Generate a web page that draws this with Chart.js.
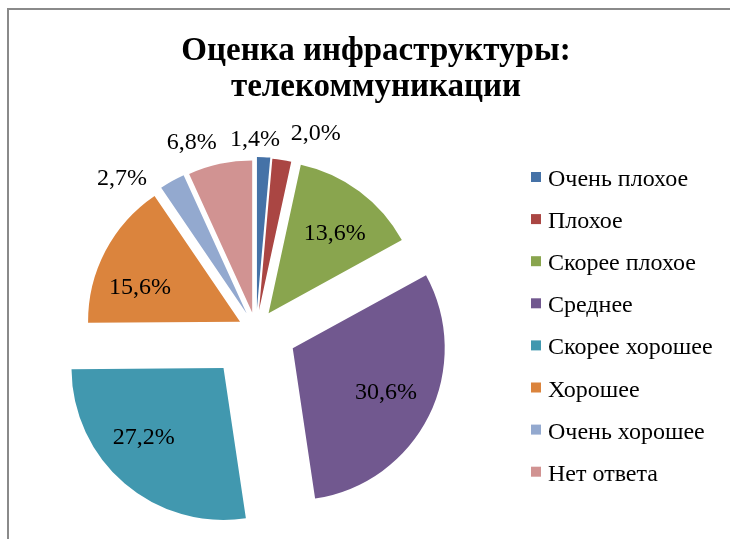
<!DOCTYPE html>
<html>
<head>
<meta charset="utf-8">
<script src="https://cdn.jsdelivr.net/npm/chart.js@4"></script>
<style>
  html, body { margin: 0; padding: 0; background: #ffffff; }
  #wrap { position: relative; width: 730px; height: 539px; overflow: hidden; background: #fff; }
  #frame { position: absolute; left: 7px; top: 8px; width: 760px; height: 600px;
           border-left: 2px solid #8a8a8a; border-top: 2px solid #8a8a8a; box-sizing: border-box; }
  #c { position: absolute; left: 0; top: 0; }
</style>
</head>
<body>
<div id="wrap">
  <div id="frame"></div>
  <canvas id="c" width="730" height="539"></canvas>
</div>
<script>
// ---- data ----
const titleLines = ['Оценка инфраструктуры:', 'телекоммуникации'];
const categories = ['Очень плохое', 'Плохое', 'Скорее плохое', 'Среднее',
                    'Скорее хорошее', 'Хорошее', 'Очень хорошее', 'Нет ответа'];
const shares = [1.4, 2.0, 13.6, 30.6, 27.2, 15.6, 2.7, 6.8];
const valueLabels = shares.map(v => v.toFixed(1).replace('.', ',') + '%');

// ---- style ----
const sliceColors = ['#4572A7', '#AA4643', '#89A54E', '#71588F',
                     '#4198AF', '#DB843D', '#93A9CF', '#D19392'];
const explodePx = [21, 20, 21, 41, 50, 18, 19, 18];
const labelDist = [1.126, 1.231, 0.689, 0.675, 0.689, 0.699, 1.217, 1.195];
const labelTurn = [-3.2, 9, 2.4, -1.8, 9, -8, -13, -7.2];
const SERIF = '"Liberation Serif", "Times New Roman", serif';

const explodePlugin = {
  id: 'explode',
  afterDatasetsUpdate(chart) {
    const meta = chart.getDatasetMeta(0);
    meta.data.forEach((arc, i) => {
      const mid = (arc.startAngle + arc.endAngle) / 2;
      arc.x += Math.cos(mid) * explodePx[i];
      arc.y += Math.sin(mid) * explodePx[i];
    });
  }
};

const labelPlugin = {
  id: 'sliceLabels',
  afterDatasetsDraw(chart) {
    const ctx = chart.ctx;
    const meta = chart.getDatasetMeta(0);
    ctx.save();
    ctx.font = '24px ' + SERIF;
    ctx.fillStyle = '#000';
    ctx.textAlign = 'center';
    ctx.textBaseline = 'alphabetic';
    meta.data.forEach((arc, i) => {
      const a = (arc.startAngle + arc.endAngle) / 2 + labelTurn[i] * Math.PI / 180;
      const r = arc.outerRadius * labelDist[i];
      ctx.fillText(valueLabels[i], arc.x + Math.cos(a) * r, arc.y + Math.sin(a) * r + 8);
    });
    ctx.restore();
  }
};

const textPlugin = {
  id: 'titleLegend',
  afterDraw(chart) {
    const ctx = chart.ctx;
    ctx.save();
    ctx.fillStyle = '#000';
    ctx.textAlign = 'center';
    ctx.textBaseline = 'alphabetic';
    ctx.font = 'bold 33px ' + SERIF;
    titleLines.forEach((t, i) => ctx.fillText(t, 376, 60 + i * 36));
    ctx.textAlign = 'left';
    ctx.font = '24px ' + SERIF;
    categories.forEach((c, i) => {
      ctx.fillStyle = sliceColors[i];
      ctx.fillRect(531, 172 + i * 42.1, 10, 10);
      ctx.fillStyle = '#000';
      ctx.fillText(c, 548, 186 + i * 42.1);
    });
    ctx.restore();
  }
};

new Chart(document.getElementById('c'), {
  type: 'pie',
  data: {
    labels: categories,
    datasets: [{
      data: shares,
      backgroundColor: sliceColors,
      borderWidth: 0,
      hoverOffset: 0
    }]
  },
  options: {
    responsive: false,
    animation: false,
    events: [],
    radius: 152,
    layout: { padding: { left: 0, right: 218, top: 121, bottom: 0 } },
    plugins: {
      legend: { display: false },
      title: { display: false },
      tooltip: { enabled: false }
    }
  },
  plugins: [explodePlugin, labelPlugin, textPlugin]
});
</script>
</body>
</html>
